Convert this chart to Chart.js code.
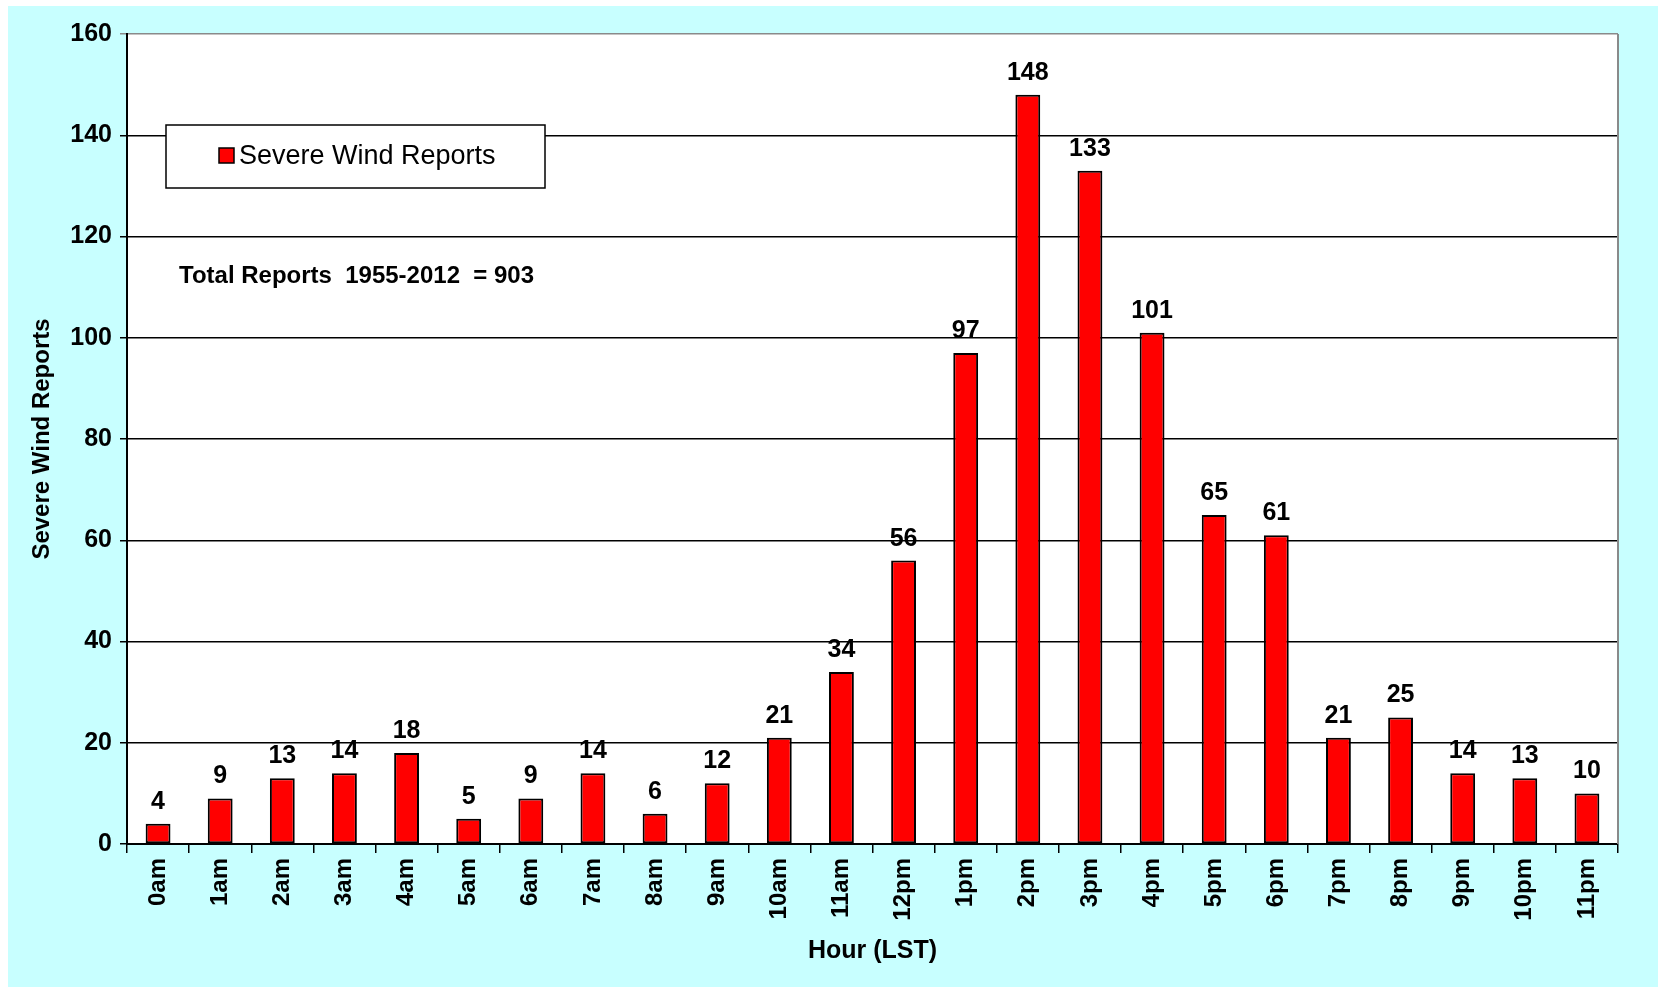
<!DOCTYPE html>
<html>
<head>
    <title>Severe Wind Reports by Hour</title>
    <script src="https://cdn.jsdelivr.net/npm/chart.js@4.4.1/dist/chart.umd.min.js"></script>
    <style>
        body { margin: 0; background: #ffffff; }
        #chartBox {
            position: absolute;
            left: 8px;
            top: 6px;
            width: 1650px;
            height: 981px;
            background: #c8ffff;
        }
    </style>
</head>
<body>
<div id="chartBox">
    <canvas id="windChart"></canvas>
</div>
<script>

// hour labels along the x axis
const hours = ['0am', '1am', '2am', '3am', '4am', '5am', '6am', '7am', '8am', '9am', '10am', '11am',
               '12pm', '1pm', '2pm', '3pm', '4pm', '5pm', '6pm', '7pm', '8pm', '9pm', '10pm', '11pm'];

// severe wind reports per hour, 1955-2012
const windReports = [4, 9, 13, 14, 18, 5, 9, 14, 6, 12, 21, 34, 56, 97, 148, 133, 101, 65, 61, 21, 25, 14, 13, 10];

const yTicks = [0, 20, 40, 60, 80, 100, 120, 140, 160];

const seriesName = 'Severe Wind Reports';
const totalNote = 'Total Reports  1955-2012  = 903';

const NARROW = '"Liberation Sans Narrow", "Arial Narrow", "Liberation Sans", Arial, sans-serif';
const REGULAR = '"Liberation Sans", Arial, sans-serif';

// white plot area with a grey right edge (top edge is the grey 160 grid line)
const frame = {
    id: 'frame',
    beforeDraw(chart) {
        const { ctx, chartArea } = chart;
        ctx.save();
        ctx.fillStyle = '#ffffff';
        ctx.fillRect(chartArea.left, chartArea.top, chartArea.width, chartArea.height);
        ctx.restore();
    },
    beforeDatasetsDraw(chart) {
        const { ctx, chartArea } = chart;
        ctx.save();
        ctx.strokeStyle = '#8a8a8a';
        ctx.lineWidth = 2;
        ctx.beginPath();
        ctx.moveTo(chartArea.right, chartArea.top);
        ctx.lineTo(chartArea.right, chartArea.bottom);
        ctx.stroke();
        ctx.restore();
    }
};

// value printed above each bar
const barValues = {
    id: 'barValues',
    afterDatasetsDraw(chart) {
        const { ctx } = chart;
        const meta = chart.getDatasetMeta(0);
        ctx.save();
        ctx.fillStyle = '#000';
        ctx.font = 'bold 25px ' + NARROW;
        ctx.textAlign = 'center';
        ctx.textBaseline = 'alphabetic';
        meta.data.forEach((bar, i) => {
            ctx.fillText(String(chart.data.datasets[0].data[i]), bar.x, bar.y - 15);
        });
        ctx.restore();
    }
};

// boxed legend and the total note, top left of the plot
const notes = {
    id: 'notes',
    afterDraw(chart) {
        const { ctx } = chart;
        const ds = chart.data.datasets[0];
        ctx.save();
        ctx.fillStyle = '#fff';
        ctx.fillRect(158, 119, 379, 63);
        ctx.strokeStyle = '#000';
        ctx.lineWidth = 1.5;
        ctx.strokeRect(158, 119, 379, 63);

        ctx.fillStyle = ds.backgroundColor;
        ctx.fillRect(211, 142, 15, 15);
        ctx.strokeRect(211, 142, 15, 15);

        ctx.fillStyle = '#000';
        ctx.font = '27px ' + REGULAR;
        ctx.textAlign = 'left';
        ctx.textBaseline = 'middle';
        ctx.fillText(ds.label, 231, 151);

        ctx.font = 'bold 24px ' + NARROW;
        ctx.fillText(totalNote, 171, 270);
        ctx.restore();
    }
};

const ctx = document.getElementById('windChart').getContext('2d');

const windChart = new Chart(ctx, {
    type: 'bar',
    data: {
        labels: hours,
        datasets: [{
            label: seriesName,
            data: windReports,
            backgroundColor: '#ff0000',
            borderColor: '#000000',
            borderWidth: 2,
            borderSkipped: false,
            categoryPercentage: 0.8,
            barPercentage: 0.5,
        }],
    },
    options: {
        responsive: true,
        maintainAspectRatio: false,
        animation: false,
        layout: { padding: { top: 28, right: 40, left: 0, bottom: 0 } },
        plugins: {
            legend: { display: false },
            tooltip: { enabled: false },
        },
        scales: {
            x: {
                afterFit(scale) { scale.height = 143; },
                grid: {
                    offset: true,
                    drawOnChartArea: false,
                    color: '#000',
                    lineWidth: 1.5,
                    tickLength: 9,
                },
                border: { color: '#000', width: 2 },
                ticks: {
                    color: '#000',
                    font: { family: REGULAR, size: 24, weight: 'bold' },
                    minRotation: 90,
                    maxRotation: 90,
                    autoSkip: false,
                    padding: 5,
                },
                title: {
                    display: true,
                    text: 'Hour (LST)',
                    color: '#000',
                    font: { family: NARROW, size: 25, weight: 'bold' },
                    padding: { top: 0, bottom: 21 },
                },
            },
            y: {
                min: 0,
                max: 160,
                afterFit(scale) { scale.width = 119; },
                afterBuildTicks(scale) { scale.ticks = yTicks.map(v => ({ value: v })); },
                grid: {
                    color: c => (c.tick && c.tick.value === 160 ? '#8a8a8a' : '#000'),
                    lineWidth: 1.5,
                    tickLength: 7,
                },
                border: { color: '#000', width: 2 },
                ticks: {
                    color: '#000',
                    font: { family: NARROW, size: 25, weight: 'bold' },
                    padding: 8,
                },
                title: {
                    display: true,
                    text: 'Severe Wind Reports',
                    color: '#000',
                    font: { family: NARROW, size: 24, weight: 'bold' },
                    padding: { top: 20, bottom: 0 },
                },
            },
        },
    },
    plugins: [frame, barValues, notes],
});

</script>
</body>
</html>
